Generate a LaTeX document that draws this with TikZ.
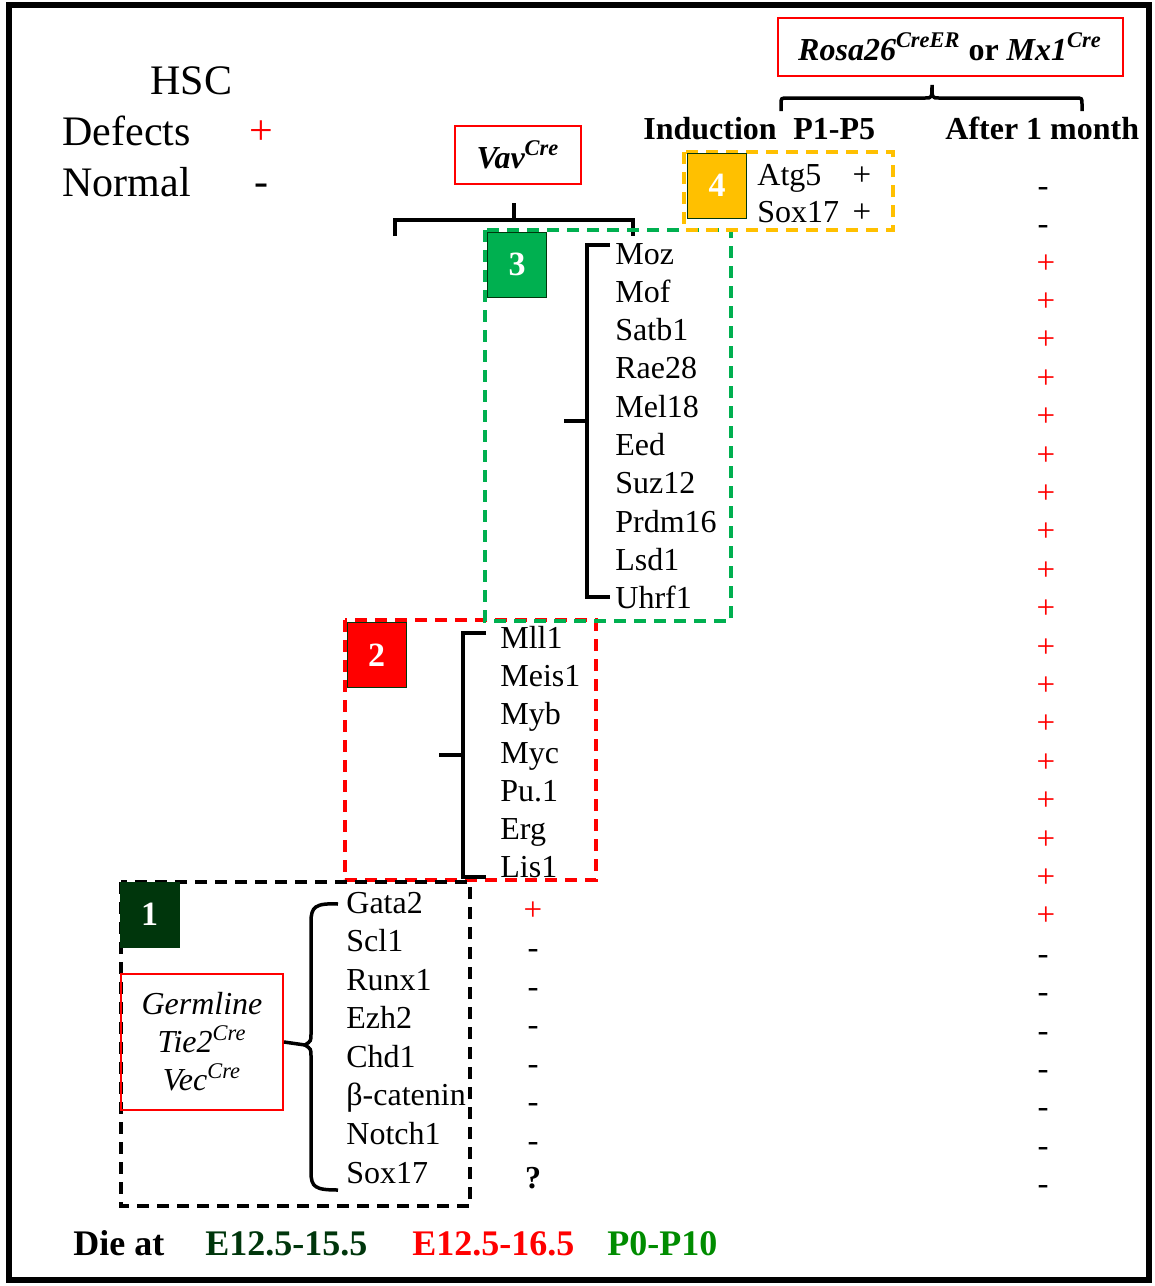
\documentclass[tikz,border=0pt]{standalone}
\usepackage{fontspec}
\setmainfont{Liberation Serif}
\usepackage{xcolor}
\definecolor{deepgrn}{HTML}{00360C}
\definecolor{boxgrn}{HTML}{00B050}
\definecolor{leafgrn}{HTML}{008C00}
\definecolor{amber}{HTML}{FFC000}
\definecolor{alarm}{HTML}{FF0000}
\newcommand{\fsz}[2]{\fontsize{#1}{#2}\selectfont}
\newcommand{\numbox}[5]{%
  \node[draw=deepgrn, fill=#4, minimum width=29.5pt, minimum height=32.5pt, inner sep=0pt,
        text=white, font=\fsz{17}{20}\bfseries] (#1) at (#2,#3) {#5};}
\newcommand{\sqbrk}[6]{%
  \coordinate (#1) at (#5,{(#3+#4)/2});
  \draw[brk] (#6,#3) -- (#2,#3) -- (#2,#4) -- (#6,#4);
  \draw[brk] (#1) -- (#2,{(#3+#4)/2});}

\begin{document}
\begin{tikzpicture}[x=0.5pt, y=-0.5pt,
  gene/.style={anchor=base west, inner sep=0pt, font=\fsz{16}{19}},
  sign/.style={anchor=base, inner sep=0pt, font=\fsz{16.5}{19}},
  head/.style={anchor=base west, inner sep=0pt, font=\fsz{16}{19}\bfseries},
  legend/.style={anchor=base west, inner sep=0pt, font=\fsz{21}{25}},
  dashbox/.style={line width=1.8pt, dash pattern=on 6pt off 4pt},
  tagbox/.style={draw=alarm, line width=1pt, inner sep=0pt},
  brk/.style={line width=1.75pt}]
  \useasboundingbox (0,0) rectangle (1155,1286);
  \draw[line width=2.75pt] (9,5) rectangle (1149,1280);
  \node[legend] (hsc) at (150,94) {HSC};
  \node[legend] (defects) at (62,145) {Defects};
  \node[legend] (normal) at (62,196) {Normal};
  \node[sign, font=\fsz{21}{25}, text=alarm] (plus) at (261,144) {+};
  \node[sign, font=\fsz{21}{25}] (minus) at (261,195) {-};
  \node[tagbox, minimum width=172.5pt, minimum height=29pt, font=\fsz{16}{19}\bfseries] (rosa) at (950,47)
    {\textit{Rosa26}\textsuperscript{\textit{CreER}} or \textit{Mx1}\textsuperscript{\textit{Cre}}};
  \node[tagbox, minimum width=63pt, minimum height=29pt, font=\fsz{16}{19}\bfseries\itshape] (vav) at (518,155)
    {Vav\textsuperscript{Cre}};
  \node[head] (induct) at (643,139) {Induction};
  \node[head] (p1p5) at (793,139) {P1-P5};
  \node[head] (month) at (945,139) {After 1 month};
  \coordinate (rosatip) at (932,85);
  \draw[brk] (781,111) -- (781,104) .. controls (781,98) .. (788,98) -- (925,98) .. controls (932,98) .. (rosatip)
    .. controls (932,98) .. (939,98) -- (1075,98) .. controls (1082,98) .. (1082,104) -- (1082,111);
  \coordinate (vavtip) at (514,203);
  \draw[brk] (395,236) -- (395,220) -- (633,220) -- (633,236);
  \draw[brk] (vavtip) -- (514,220);
  \draw[dashbox, alarm] (345,620) rectangle (596,880);
  \draw[dashbox, boxgrn] (485,230) rectangle (731,621);
  \draw[dashbox] (121,882) rectangle (470,1206);
  \draw[dashbox, amber] (684,152) rectangle (893,230);
  \numbox{n1}{149.5}{914.5}{deepgrn}{1}
  \numbox{n2}{376.5}{655}{alarm}{2}
  \numbox{n3}{517}{264.5}{boxgrn}{3}
  \numbox{n4}{717}{185.5}{amber}{4}
  \node[gene] (atg5) at (757,185) {Atg5};
  \node[gene] (soxd) at (757,222) {Sox17};
  \node[sign] (atg5m) at (862,185) {+};
  \node[sign] (soxdm) at (862,222) {+};
  \foreach \g [count=\k from 0] in {Moz,Mof,Satb1,Rae28,Mel18,Eed,Suz12,Prdm16,Lsd1,Uhrf1}
    \node[gene] (c\k) at (615,{264+38.33*\k}) {\g};
  \foreach \g [count=\k from 0] in {Mll1,Meis1,Myb,Myc,Pu.1,Erg,Lis1}
    \node[gene] (b\k) at (500,{648+38.33*\k}) {\g};
  \foreach \g [count=\k from 0] in {Gata2,Scl1,Runx1,Ezh2,Chd1,β-catenin,Notch1,Sox17}
    \node[gene] (a\k) at (346,{913+38.57*\k}) {\g};
  \sqbrk{b3}{587}{245}{597}{564}{610}
  \sqbrk{b2}{463}{633}{877}{439}{486}
  \node[sign, text=alarm] (am0) at (533,920) {+};
  \foreach \k in {1,...,6}
    \node[sign] (am\k) at (533,{920+38.5*\k}) {-};
  \node[sign, font=\fsz{16}{19}\bfseries] (am7) at (533,1188) {?};
  \node[sign] (ratg) at (1043,196) {-};
  \node[sign] (rsox) at (1043,234) {-};
  \foreach \k in {0,...,17}
    \node[sign, text=alarm] (r\k) at (1046,{273+38.4*\k}) {+};
  \foreach \k in {18,...,24}
    \node[sign] (r\k) at (1043,{273+38.4*\k}) {-};
  \node[tagbox, minimum width=81pt, minimum height=68pt, align=center, font=\fsz{16}{19}\itshape] (germ) at (202,1042)
    {Germline\\Tie2\textsuperscript{Cre}\\Vec\textsuperscript{Cre}};
  \coordinate (cusp) at (305,1045);
  \draw[brk] (338,904) .. controls (315,903) and (311,907) .. (311,922) -- (311,1034) .. controls (311,1041) .. (cusp)
    .. controls (311,1049) .. (311,1056) -- (311,1172) .. controls (311,1187) and (315,1190) .. (338,1190);
  \draw[brk] (germ.east) -- (cusp);
  \node[head, font=\fsz{18}{22}\bfseries] (dieat) at (73,1255) {Die at};
  \node[head, font=\fsz{18}{22}\bfseries, text=deepgrn] (die1) at (205,1255) {E12.5-15.5};
  \node[head, font=\fsz{18}{22}\bfseries, text=alarm] (die2) at (412,1255) {E12.5-16.5};
  \node[head, font=\fsz{18}{22}\bfseries, text=leafgrn] (die3) at (607,1255) {P0-P10};
\end{tikzpicture}
\end{document}
